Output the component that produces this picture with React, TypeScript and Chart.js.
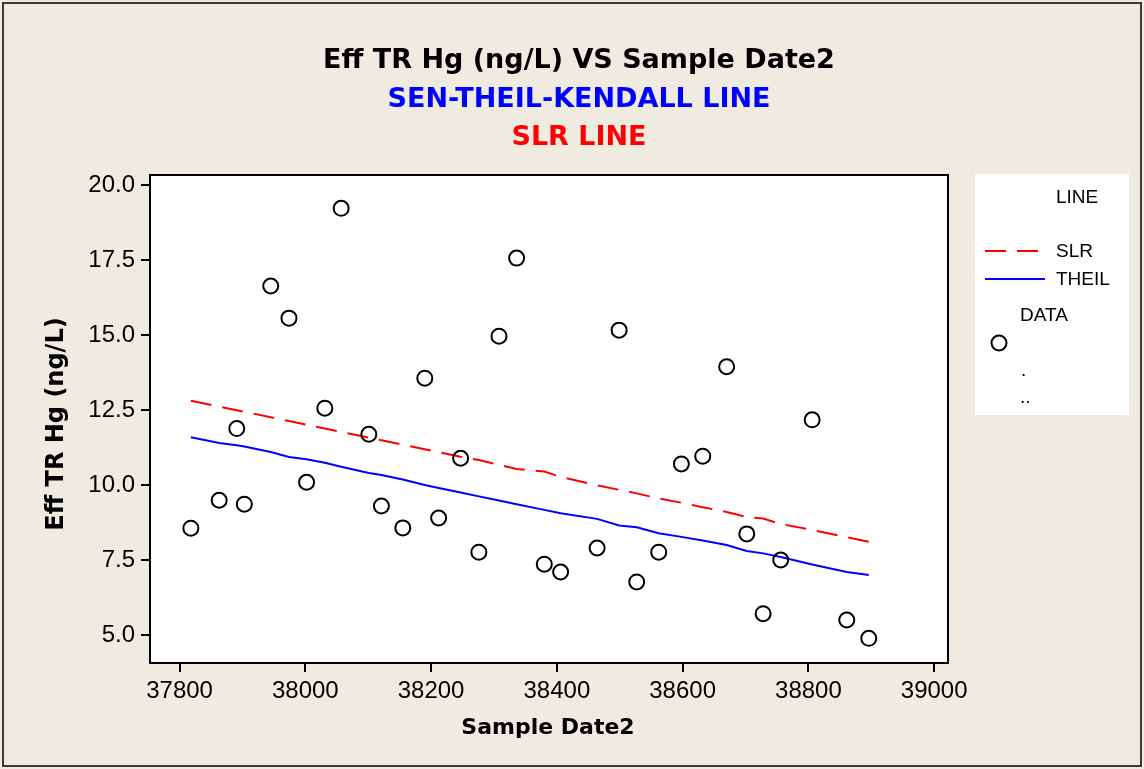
import React, { useEffect, useRef } from "react";
import { Chart, registerables } from "chart.js";

Chart.register(...registerables);

const sampleDates = [37818, 37863, 37891, 37903, 37945, 37974, 38002, 38031, 38057, 38101, 38121, 38155, 38190, 38212, 38247, 38276, 38308, 38336, 38380, 38406, 38464, 38499, 38527, 38562, 38598, 38632, 38670, 38702, 38728, 38756, 38806, 38861, 38896];
const hgValues = [8.56, 9.49, 11.88, 9.36, 16.63, 15.56, 10.09, 12.56, 19.22, 11.69, 9.3, 8.57, 13.56, 8.9, 10.89, 7.76, 14.96, 17.56, 7.36, 7.1, 7.9, 15.16, 6.77, 7.76, 10.7, 10.96, 13.94, 8.37, 5.71, 7.5, 12.17, 5.5, 4.89];
const slrLine = [12.81, 12.61, 12.49, 12.44, 12.26, 12.13, 12.01, 11.88, 11.77, 11.58, 11.49, 11.34, 11.19, 11.09, 10.94, 10.83, 10.67, 10.53, 10.45, 10.27, 9.99, 9.84, 9.72, 9.55, 9.41, 9.26, 9.1, 8.93, 8.88, 8.7, 8.5, 8.26, 8.11];
const theilLine = [11.59, 11.4, 11.32, 11.28, 11.1, 10.93, 10.86, 10.74, 10.61, 10.4, 10.33, 10.18, 10.0, 9.9, 9.75, 9.62, 9.48, 9.36, 9.17, 9.06, 8.87, 8.65, 8.59, 8.39, 8.27, 8.15, 8.0, 7.8, 7.72, 7.6, 7.35, 7.1, 7.0];
const xTicks = [37800, 38000, 38200, 38400, 38600, 38800, 39000];
const yTicks = [5, 7.5, 10, 12.5, 15, 17.5, 20];

const titleLines = [
  { text: "Eff TR Hg (ng/L) VS Sample Date2", color: "#000000" },
  { text: "SEN-THEIL-KENDALL LINE", color: "#0000FF" },
  { text: "SLR LINE", color: "#FF0000" },
];
const xTitle = "Sample Date2";
const yTitle = "Eff TR Hg (ng/L)";
const BG = "#EFEBE0";
const FONT = '"DejaVu Sans", Verdana, sans-serif';
const TICKFONT = '"Liberation Sans", Arial, sans-serif';

const decorPlugin = {
  id: "decor",
  beforeDraw(chart: any) {
    const ctx = chart.ctx;
    const a = chart.chartArea;
    ctx.save();
    ctx.fillStyle = BG;
    ctx.fillRect(0, 0, chart.width, chart.height);
    ctx.fillStyle = "#FFFFFF";
    ctx.fillRect(a.left, a.top, a.right - a.left, a.bottom - a.top);
    ctx.strokeStyle = "#3a3a3a";
    ctx.lineWidth = 2;
    ctx.strokeRect(3, 3, chart.width - 6, chart.height - 6);
    ctx.restore();
  },
  afterDraw(chart: any) {
    const ctx = chart.ctx;
    const a = chart.chartArea;
    ctx.save();
    // frame
    ctx.strokeStyle = "#000000";
    ctx.lineWidth = 2;
    ctx.strokeRect(a.left, a.top, a.right - a.left, a.bottom - a.top);
    // titles
    ctx.textAlign = "center";
    ctx.textBaseline = "alphabetic";
    ctx.font = "bold 27px " + FONT;
    const ys = [68, 107, 145];
    titleLines.forEach((t, i) => {
      ctx.fillStyle = t.color;
      ctx.fillText(t.text, 579, ys[i]);
    });
    // axis titles
    ctx.fillStyle = "#000000";
    ctx.font = "bold 22px " + FONT;
    ctx.fillText(xTitle, (a.left + a.right) / 2 - 1, 734);
    ctx.save();
    ctx.translate(63, 424);
    ctx.rotate(-Math.PI / 2);
    ctx.font = "bold 24px " + FONT;
    ctx.fillText(yTitle, 0, 0);
    ctx.restore();
    // legend
    ctx.fillStyle = "#FFFFFF";
    ctx.fillRect(975, 174, 154, 241);
    ctx.fillStyle = "#000000";
    ctx.textAlign = "left";
    ctx.font = "19px " + TICKFONT;
    ctx.fillText("LINE", 1056, 203);
    ctx.fillText("SLR", 1056, 257);
    ctx.fillText("THEIL", 1056, 285);
    ctx.fillText("DATA", 1020, 321);
    ctx.fillText(".", 1021, 376);
    ctx.fillText("..", 1020, 403);
    ctx.lineWidth = 2;
    ctx.strokeStyle = "#FF0000";
    ctx.setLineDash([21, 11]);
    ctx.beginPath();
    ctx.moveTo(985, 251);
    ctx.lineTo(1040, 251);
    ctx.stroke();
    ctx.setLineDash([]);
    ctx.strokeStyle = "#0000FF";
    ctx.beginPath();
    ctx.moveTo(985, 279);
    ctx.lineTo(1045, 279);
    ctx.stroke();
    ctx.strokeStyle = "#000000";
    ctx.beginPath();
    ctx.arc(999, 343, 7.5, 0, Math.PI * 2);
    ctx.stroke();
    ctx.restore();
  },
};

export default function App() {
  const canvasRef = useRef<HTMLCanvasElement | null>(null);

  useEffect(() => {
    document.body.style.margin = "0";
    const canvas = canvasRef.current;
    if (!canvas) return;
    const points = sampleDates.map((d, i) => ({ x: d, y: hgValues[i] }));
    const slrPts = sampleDates.map((d, i) => ({ x: d, y: slrLine[i] }));
    const theilPts = sampleDates.map((d, i) => ({ x: d, y: theilLine[i] }));

    const chart = new Chart(canvas, {
      type: "scatter",
      data: {
        datasets: [
          {
            label: "DATA",
            data: points,
            showLine: false,
            pointStyle: "circle",
            pointRadius: 7.5,
            pointHoverRadius: 7.5,
            pointBorderWidth: 2,
            pointBorderColor: "#000000",
            pointBackgroundColor: "rgba(0,0,0,0)",
            borderWidth: 2,
            borderColor: "#000000",
            backgroundColor: "rgba(0,0,0,0)",
          },
          {
            label: "SLR",
            data: slrPts,
            showLine: true,
            pointRadius: 0,
            borderColor: "#FF0000",
            borderWidth: 2,
            borderDash: [21, 11],
            tension: 0,
            fill: false,
          },
          {
            label: "THEIL",
            data: theilPts,
            showLine: true,
            pointRadius: 0,
            borderColor: "#0000FF",
            borderWidth: 2,
            tension: 0,
            fill: false,
          },
        ],
      },
      options: {
        animation: false,
        responsive: false,
        maintainAspectRatio: false,
        devicePixelRatio: 1,
        layout: { padding: { left: 0, top: 175, right: 196, bottom: 0 } },
        plugins: {
          legend: { display: false },
          title: { display: false },
          tooltip: { enabled: false },
        },
        scales: {
          x: {
            type: "linear",
            min: 37753,
            max: 39022,
            afterFit: (scale: any) => {
              scale.height = 106;
            },
            afterBuildTicks: (scale: any) => {
              scale.ticks = xTicks.map((v) => ({ value: v }));
            },
            grid: {
              display: true,
              drawOnChartArea: false,
              drawTicks: true,
              tickLength: 9,
              color: "#000000",
              lineWidth: 2,
            },
            border: { display: true, color: "#000000", width: 2 },
            ticks: {
              padding: 5,
              color: "#000000",
              font: { family: TICKFONT, size: 24 },
              maxRotation: 0,
              autoSkip: false,
              callback: (v: any) => String(v),
            },
          },
          y: {
            type: "linear",
            min: 4.067,
            max: 20.33,
            afterFit: (scale: any) => {
              scale.width = 150;
            },
            afterBuildTicks: (scale: any) => {
              scale.ticks = yTicks.map((v) => ({ value: v }));
            },
            grid: {
              display: true,
              drawOnChartArea: false,
              drawTicks: true,
              tickLength: 9,
              color: "#000000",
              lineWidth: 2,
            },
            border: { display: true, color: "#000000", width: 2 },
            ticks: {
              padding: 6,
              color: "#000000",
              font: { family: TICKFONT, size: 24 },
              autoSkip: false,
              callback: (v: any) => Number(v).toFixed(1),
            },
          },
        },
      },
      plugins: [decorPlugin],
    } as any);

    return () => {
      chart.destroy();
    };
  }, []);

  return (
    <div style={{ width: 1144, height: 769 }}>
      <canvas ref={canvasRef} width={1144} height={769} style={{ display: "block" }} />
    </div>
  );
}
